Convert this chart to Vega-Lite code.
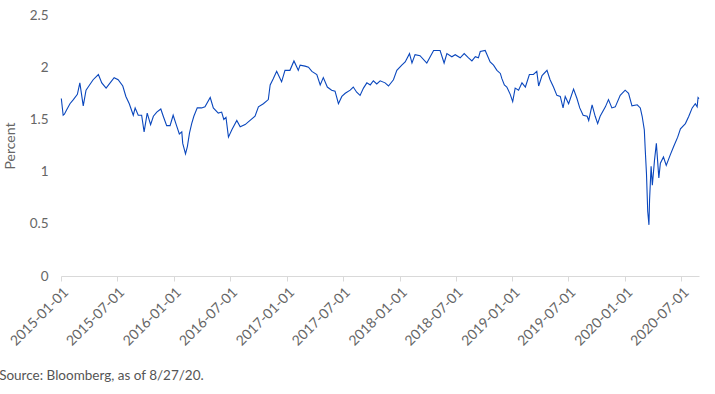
{
  "$schema": "https://vega.github.io/schema/vega-lite/v6.json",
  "width": 638,
  "height": 261,
  "autosize": "none",
  "padding": {"left": 61, "top": 15, "right": 16, "bottom": 118},
  "background": "white",
  "config": {
    "view": {"stroke": null},
    "font": "Lato"
  },
  "title": {
    "text": "Source: Bloomberg, as of 8/27/20.",
    "orient": "bottom",
    "anchor": "start",
    "frame": "bounds",
    "offset": 21,
    "dx": -4,
    "fontSize": 13.5,
    "fontWeight": "normal",
    "color": "#555555",
    "font": "Lato"
  },
  "data": {
    "values": [
      {"date": "2015-01-02", "value": 1.70},
      {"date": "2015-01-08", "value": 1.54},
      {"date": "2015-01-12", "value": 1.55},
      {"date": "2015-01-19", "value": 1.59},
      {"date": "2015-01-30", "value": 1.65},
      {"date": "2015-02-10", "value": 1.69},
      {"date": "2015-02-23", "value": 1.74},
      {"date": "2015-03-03", "value": 1.85},
      {"date": "2015-03-14", "value": 1.63},
      {"date": "2015-03-23", "value": 1.78},
      {"date": "2015-03-30", "value": 1.81},
      {"date": "2015-04-15", "value": 1.88},
      {"date": "2015-05-02", "value": 1.93},
      {"date": "2015-05-13", "value": 1.85},
      {"date": "2015-05-27", "value": 1.80},
      {"date": "2015-06-09", "value": 1.85},
      {"date": "2015-06-22", "value": 1.90},
      {"date": "2015-07-05", "value": 1.88},
      {"date": "2015-07-20", "value": 1.82},
      {"date": "2015-07-30", "value": 1.72},
      {"date": "2015-08-10", "value": 1.65},
      {"date": "2015-08-23", "value": 1.54},
      {"date": "2015-08-29", "value": 1.61},
      {"date": "2015-09-08", "value": 1.54},
      {"date": "2015-09-19", "value": 1.54},
      {"date": "2015-09-27", "value": 1.38},
      {"date": "2015-10-07", "value": 1.56},
      {"date": "2015-10-18", "value": 1.45},
      {"date": "2015-10-27", "value": 1.53},
      {"date": "2015-11-07", "value": 1.57},
      {"date": "2015-11-20", "value": 1.60},
      {"date": "2015-11-28", "value": 1.53},
      {"date": "2015-12-09", "value": 1.44},
      {"date": "2015-12-20", "value": 1.44},
      {"date": "2015-12-30", "value": 1.54},
      {"date": "2016-01-10", "value": 1.44},
      {"date": "2016-01-19", "value": 1.36},
      {"date": "2016-01-27", "value": 1.38},
      {"date": "2016-01-30", "value": 1.27},
      {"date": "2016-02-08", "value": 1.17},
      {"date": "2016-02-14", "value": 1.24},
      {"date": "2016-02-21", "value": 1.37},
      {"date": "2016-02-28", "value": 1.46},
      {"date": "2016-03-06", "value": 1.53},
      {"date": "2016-03-17", "value": 1.61},
      {"date": "2016-03-31", "value": 1.61},
      {"date": "2016-04-11", "value": 1.62},
      {"date": "2016-04-28", "value": 1.71},
      {"date": "2016-05-08", "value": 1.61},
      {"date": "2016-05-24", "value": 1.56},
      {"date": "2016-06-04", "value": 1.57},
      {"date": "2016-06-11", "value": 1.50},
      {"date": "2016-06-18", "value": 1.52},
      {"date": "2016-06-26", "value": 1.33},
      {"date": "2016-07-07", "value": 1.40},
      {"date": "2016-07-23", "value": 1.49},
      {"date": "2016-08-03", "value": 1.43},
      {"date": "2016-08-19", "value": 1.45},
      {"date": "2016-09-04", "value": 1.49},
      {"date": "2016-09-20", "value": 1.53},
      {"date": "2016-10-01", "value": 1.62},
      {"date": "2016-10-17", "value": 1.65},
      {"date": "2016-11-02", "value": 1.69},
      {"date": "2016-11-08", "value": 1.83},
      {"date": "2016-11-18", "value": 1.89},
      {"date": "2016-11-29", "value": 1.96},
      {"date": "2016-12-15", "value": 1.86},
      {"date": "2016-12-26", "value": 1.97},
      {"date": "2017-01-11", "value": 1.97},
      {"date": "2017-01-24", "value": 2.06},
      {"date": "2017-02-07", "value": 1.97},
      {"date": "2017-02-13", "value": 2.02},
      {"date": "2017-03-01", "value": 2.01},
      {"date": "2017-03-12", "value": 2.00},
      {"date": "2017-03-23", "value": 1.96},
      {"date": "2017-04-08", "value": 1.93},
      {"date": "2017-04-19", "value": 1.83},
      {"date": "2017-04-29", "value": 1.90},
      {"date": "2017-05-12", "value": 1.81},
      {"date": "2017-05-26", "value": 1.78},
      {"date": "2017-06-06", "value": 1.77},
      {"date": "2017-06-17", "value": 1.65},
      {"date": "2017-06-28", "value": 1.72},
      {"date": "2017-07-09", "value": 1.75},
      {"date": "2017-07-25", "value": 1.78},
      {"date": "2017-08-04", "value": 1.81},
      {"date": "2017-08-15", "value": 1.76},
      {"date": "2017-08-26", "value": 1.73},
      {"date": "2017-09-06", "value": 1.80},
      {"date": "2017-09-17", "value": 1.85},
      {"date": "2017-09-28", "value": 1.83},
      {"date": "2017-10-08", "value": 1.87},
      {"date": "2017-10-19", "value": 1.84},
      {"date": "2017-10-30", "value": 1.87},
      {"date": "2017-11-15", "value": 1.85},
      {"date": "2017-11-26", "value": 1.82},
      {"date": "2017-12-12", "value": 1.88},
      {"date": "2017-12-23", "value": 1.97},
      {"date": "2018-01-08", "value": 2.02},
      {"date": "2018-01-19", "value": 2.05},
      {"date": "2018-02-02", "value": 2.13},
      {"date": "2018-02-10", "value": 2.04},
      {"date": "2018-02-20", "value": 2.12},
      {"date": "2018-03-08", "value": 2.11},
      {"date": "2018-03-30", "value": 2.04},
      {"date": "2018-04-10", "value": 2.10},
      {"date": "2018-04-21", "value": 2.16},
      {"date": "2018-05-12", "value": 2.16},
      {"date": "2018-05-25", "value": 2.04},
      {"date": "2018-06-03", "value": 2.13},
      {"date": "2018-06-19", "value": 2.10},
      {"date": "2018-06-30", "value": 2.12},
      {"date": "2018-07-16", "value": 2.09},
      {"date": "2018-07-29", "value": 2.13},
      {"date": "2018-08-12", "value": 2.09},
      {"date": "2018-08-23", "value": 2.06},
      {"date": "2018-09-03", "value": 2.10},
      {"date": "2018-09-13", "value": 2.09},
      {"date": "2018-09-19", "value": 2.15},
      {"date": "2018-10-05", "value": 2.16},
      {"date": "2018-10-11", "value": 2.12},
      {"date": "2018-10-21", "value": 2.05},
      {"date": "2018-11-01", "value": 2.02},
      {"date": "2018-11-12", "value": 1.97},
      {"date": "2018-11-23", "value": 1.94},
      {"date": "2018-11-28", "value": 1.89},
      {"date": "2018-12-06", "value": 1.83},
      {"date": "2018-12-14", "value": 1.81},
      {"date": "2018-12-25", "value": 1.74},
      {"date": "2019-01-02", "value": 1.67},
      {"date": "2019-01-10", "value": 1.80},
      {"date": "2019-01-21", "value": 1.78},
      {"date": "2019-02-01", "value": 1.85},
      {"date": "2019-02-12", "value": 1.81},
      {"date": "2019-02-25", "value": 1.93},
      {"date": "2019-03-10", "value": 1.93},
      {"date": "2019-03-21", "value": 1.96},
      {"date": "2019-03-27", "value": 1.82},
      {"date": "2019-04-07", "value": 1.92},
      {"date": "2019-04-23", "value": 1.97},
      {"date": "2019-05-03", "value": 1.88},
      {"date": "2019-05-14", "value": 1.81},
      {"date": "2019-05-25", "value": 1.73},
      {"date": "2019-06-05", "value": 1.72},
      {"date": "2019-06-14", "value": 1.61},
      {"date": "2019-06-21", "value": 1.72},
      {"date": "2019-07-02", "value": 1.65},
      {"date": "2019-07-18", "value": 1.79},
      {"date": "2019-07-29", "value": 1.70},
      {"date": "2019-08-07", "value": 1.61},
      {"date": "2019-08-18", "value": 1.54},
      {"date": "2019-08-31", "value": 1.53},
      {"date": "2019-09-05", "value": 1.49},
      {"date": "2019-09-16", "value": 1.64},
      {"date": "2019-09-26", "value": 1.53},
      {"date": "2019-10-04", "value": 1.46},
      {"date": "2019-10-12", "value": 1.53},
      {"date": "2019-10-29", "value": 1.62},
      {"date": "2019-11-08", "value": 1.69},
      {"date": "2019-11-19", "value": 1.61},
      {"date": "2019-11-30", "value": 1.62},
      {"date": "2019-12-16", "value": 1.73},
      {"date": "2020-01-01", "value": 1.78},
      {"date": "2020-01-12", "value": 1.75},
      {"date": "2020-01-23", "value": 1.63},
      {"date": "2020-02-09", "value": 1.64},
      {"date": "2020-02-19", "value": 1.61},
      {"date": "2020-02-25", "value": 1.53},
      {"date": "2020-03-03", "value": 1.40},
      {"date": "2020-03-06", "value": 1.21},
      {"date": "2020-03-10", "value": 0.98},
      {"date": "2020-03-14", "value": 0.62},
      {"date": "2020-03-18", "value": 0.49},
      {"date": "2020-03-20", "value": 0.73},
      {"date": "2020-03-25", "value": 1.05},
      {"date": "2020-03-29", "value": 0.87},
      {"date": "2020-04-05", "value": 1.11},
      {"date": "2020-04-11", "value": 1.27},
      {"date": "2020-04-19", "value": 0.94},
      {"date": "2020-04-24", "value": 1.08},
      {"date": "2020-05-04", "value": 1.14},
      {"date": "2020-05-13", "value": 1.06},
      {"date": "2020-05-26", "value": 1.16},
      {"date": "2020-06-06", "value": 1.24},
      {"date": "2020-06-19", "value": 1.33},
      {"date": "2020-06-28", "value": 1.41},
      {"date": "2020-07-14", "value": 1.46},
      {"date": "2020-07-25", "value": 1.53},
      {"date": "2020-08-05", "value": 1.61},
      {"date": "2020-08-15", "value": 1.65},
      {"date": "2020-08-21", "value": 1.62},
      {"date": "2020-08-24", "value": 1.71},
      {"date": "2020-08-27", "value": 1.70}
    ]
  },
  "mark": {"type": "line", "color": "#0a47bd", "strokeWidth": 1.1, "interpolate": "linear"},
  "encoding": {
    "x": {
      "field": "date",
      "type": "temporal",
      "scale": {"domain": ["2015-01-01", "2020-08-27"]},
      "axis": {
        "title": null,
        "format": "%Y-%m-%d",
        "values": ["2015-01-01", "2015-07-01", "2016-01-01", "2016-07-01", "2017-01-01", "2017-07-01", "2018-01-01", "2018-07-01", "2019-01-01", "2019-07-01", "2020-01-01", "2020-07-01"],
        "labelAngle": -45,
        "labelFontSize": 14,
        "labelColor": "#666666",
        "labelPadding": 4,
        "domainColor": "#d9d9d9",
        "tickColor": "#d9d9d9",
        "tickSize": 5,
        "grid": false,
        "labelFlush": false,
        "labelOverlap": false
      }
    },
    "y": {
      "field": "value",
      "type": "quantitative",
      "scale": {"domain": [0, 2.5], "nice": false},
      "axis": {
        "title": "Percent",
        "titleFontSize": 14,
        "titleFontWeight": "normal",
        "titleColor": "#666666",
        "titlePadding": 12,
        "values": [0, 0.5, 1, 1.5, 2, 2.5],
        "format": "~g",
        "labelFontSize": 13.5,
        "labelColor": "#666666",
        "labelPadding": 13,
        "domain": false,
        "ticks": false,
        "grid": false
      }
    }
  }
}
